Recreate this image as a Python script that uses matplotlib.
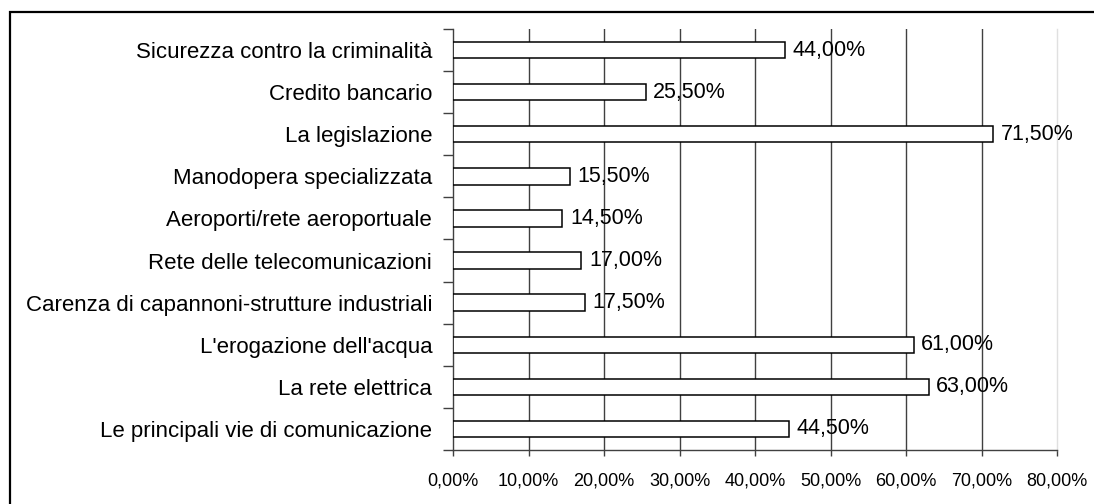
import matplotlib
matplotlib.use("Agg")
import matplotlib.pyplot as plt
from matplotlib.patches import Rectangle
from matplotlib.ticker import FixedLocator, FuncFormatter

categories = [
    "Sicurezza contro la criminalità",
    "Credito bancario",
    "La legislazione",
    "Manodopera specializzata",
    "Aeroporti/rete aeroportuale",
    "Rete delle telecomunicazioni",
    "Carenza di capannoni-strutture industriali",
    "L'erogazione dell'acqua",
    "La rete elettrica",
    "Le principali vie di comunicazione",
]
values = [44.0, 25.5, 71.5, 15.5, 14.5, 17.0, 17.5, 61.0, 63.0, 44.5]
x_ticks = [0, 10, 20, 30, 40, 50, 60, 70, 80]

plt.rcParams['font.family'] = ['Liberation Sans', 'DejaVu Sans']

fig = plt.figure(figsize=(10.94, 5.04), dpi=100)
fig.patch.set_facecolor("white")
ax = fig.add_axes([453/1094, 1 - 450/504, (1057-453)/1094, (450-29)/504])

# outer border
fig.patches.append(Rectangle((9.5/1094, -0.05), 1.2, 1 - 12/504 + 0.05,
                             transform=fig.transFigure, fill=False,
                             edgecolor="black", linewidth=1.6, zorder=10))

ypos = list(range(len(categories)))
ax.barh(ypos, values, height=0.39, color="white", edgecolor="black",
        linewidth=1.1, zorder=3)

for y, v in zip(ypos, values):
    ax.text(v + 1.0, y, f"{v:.2f}".replace(".", ",") + "%", va="center",
            ha="left", fontsize=15.5, color="black", zorder=4)

ax.set_xlim(0, 80)
ax.set_ylim(len(categories) - 0.5, -0.5)

ax.set_xticks(x_ticks)
ax.xaxis.set_major_formatter(FuncFormatter(lambda v, p: f"{v:.2f}".replace(".", ",") + "%"))
ax.tick_params(axis="x", labelsize=13, length=4, width=1, color="#404040", pad=12)

ax.set_yticks(ypos)
ax.set_yticklabels(categories, fontsize=16)
ax.yaxis.set_minor_locator(FixedLocator([i - 0.5 for i in range(len(categories) + 1)]))
ax.tick_params(axis="y", which="major", length=0, pad=15)
ax.tick_params(axis="y", which="minor", length=7, width=1, color="#404040")

for t in x_ticks[1:-1]:
    ax.axvline(t, color="#404040", linewidth=1.0, zorder=1)

ax.spines["top"].set_visible(False)
ax.spines["right"].set_color("#e0e0e0")
ax.spines["right"].set_linewidth(1.0)
ax.spines["left"].set_color("#404040")
ax.spines["bottom"].set_color("#404040")
ax.spines["left"].set_linewidth(1.0)
ax.spines["bottom"].set_linewidth(1.0)

fig.savefig("out.png", dpi=100, facecolor="white")
